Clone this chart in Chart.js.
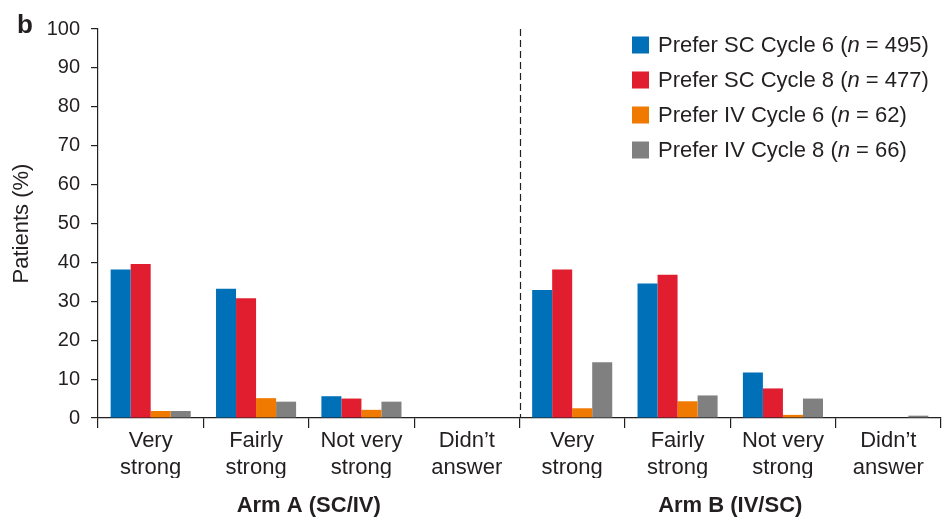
<!DOCTYPE html>
<html>
<head>
<meta charset="utf-8">
<script src="https://cdn.jsdelivr.net/npm/chart.js@4/dist/chart.umd.min.js"></script>
<style>
  html, body { margin: 0; padding: 0; background: #ffffff; }
  #wrap { width: 944px; height: 520px; position: relative; }
</style>
</head>
<body>
<div id="wrap"><canvas id="c" width="944" height="520"></canvas></div>
<script>
// ---- data ----
const categories = [
  ['Very', 'strong'], ['Fairly', 'strong'], ['Not very', 'strong'], ['Didn\u2019t', 'answer'],
  ['Very', 'strong'], ['Fairly', 'strong'], ['Not very', 'strong'], ['Didn\u2019t', 'answer']
];
const armLabels = ['Arm A (SC/IV)', 'Arm B (IV/SC)'];
const seriesNames = ['Prefer SC Cycle 6', 'Prefer SC Cycle 8', 'Prefer IV Cycle 6', 'Prefer IV Cycle 8'];
const seriesN = [495, 477, 62, 66];
const preferSC6 = [38.2, 33.2, 5.6, 0, 32.9, 34.6, 11.7, 0];
const preferSC8 = [39.6, 30.8, 5.0, 0, 38.2, 36.8, 7.6, 0];
const preferIV6 = [1.8, 5.1, 2.1, 0, 2.5, 4.3, 0.8, 0];
const preferIV8 = [1.8, 4.2, 4.2, 0, 14.3, 5.8, 5.0, 0.6];
const yTicks = [0, 10, 20, 30, 40, 50, 60, 70, 80, 90, 100];

const colors = ['#0071B9', '#E11E2F', '#F07A00', '#808080'];
const INK = '#231F20';
const FONT = "'Liberation Sans', Arial, Helvetica, sans-serif";

const seriesValues = [preferSC6, preferSC8, preferIV6, preferIV8];

const extras = {
  id: 'extras',
  afterDatasetsDraw(chart) {
    const ctx = chart.ctx;
    const x = chart.scales.x;
    const area = chart.chartArea;
    // dashed separator between arms
    const sx = Math.round(x.getPixelForValue(3.5)) + 0.5;
    ctx.save();
    ctx.strokeStyle = INK;
    ctx.lineWidth = 1.2;
    ctx.setLineDash([7, 4]);
    ctx.beginPath();
    ctx.moveTo(sx, area.top);
    ctx.lineTo(sx, area.bottom);
    ctx.stroke();
    ctx.restore();
  },
  afterDraw(chart) {
    const ctx = chart.ctx;
    ctx.save();
    // panel letter
    ctx.fillStyle = INK;
    ctx.font = "bold 26px " + FONT;
    ctx.textBaseline = 'alphabetic';
    ctx.textAlign = 'left';
    ctx.fillText('b', 17, 33);
    // legend
    const sqX = 632, sqSize = 17, txtX = 658;
    const rowY = [45, 80, 115, 150];
    ctx.textBaseline = 'middle';
    for (let i = 0; i < seriesNames.length; i++) {
      const cy = rowY[i];
      ctx.fillStyle = colors[i];
      ctx.fillRect(sqX, cy - sqSize / 2, sqSize, sqSize);
      ctx.fillStyle = INK;
      let tx = txtX;
      const parts = [
        [seriesNames[i] + ' (', 'normal'],
        ['n', 'italic'],
        [' = ' + seriesN[i] + ')', 'normal']
      ];
      for (const [t, style] of parts) {
        ctx.font = (style === 'italic' ? 'italic ' : '') + '22px ' + FONT;
        ctx.fillText(t, tx, cy + 1);
        tx += ctx.measureText(t).width;
      }
    }
    ctx.restore();
  }
};

new Chart(document.getElementById('c'), {
  type: 'bar',
  data: {
    labels: categories,
    datasets: seriesNames.map((name, i) => ({
      label: name,
      data: seriesValues[i],
      backgroundColor: colors[i],
      borderWidth: 0,
      barPercentage: 1.0,
      categoryPercentage: 0.76,
      xAxisID: 'x',
      yAxisID: 'y'
    }))
  },
  options: {
    responsive: false,
    animation: false,
    devicePixelRatio: 1,
    layout: { padding: { top: 29, right: 3, bottom: 0, left: 0 } },
    plugins: { legend: { display: false }, tooltip: { enabled: false } },
    scales: {
      x: {
        type: 'category',
        position: 'bottom',
        weight: 0,
        offset: true,
        grid: { display: true, offset: true, drawOnChartArea: false, drawTicks: true, tickLength: 10, color: INK, lineWidth: 1.2 },
        border: { display: true, color: INK, width: 1.2 },
        ticks: { color: INK, font: { family: FONT, size: 22, lineHeight: 1.23 }, padding: -1, maxRotation: 0, autoSkip: false },
        afterFit(scale) { scale.height = 60; }
      },
      xArm: {
        type: 'category',
        position: 'bottom',
        weight: 1,
        labels: armLabels,
        offset: true,
        grid: { display: false, drawTicks: false },
        border: { display: false },
        ticks: { color: INK, font: { family: FONT, size: 22, weight: 'bold', lineHeight: 1.2 }, padding: 15, maxRotation: 0 },
        afterFit(scale) { scale.height = 42; }
      },
      y: {
        type: 'linear',
        min: 0,
        max: 100,
        afterBuildTicks(scale) { scale.ticks = yTicks.map(v => ({ value: v })); },
        grid: { display: true, drawOnChartArea: false, drawTicks: true, tickLength: 7, color: INK, lineWidth: 1.2 },
        border: { display: true, color: INK, width: 1.2 },
        ticks: { color: INK, font: { family: FONT, size: 20 }, padding: 11 },
        title: { display: true, text: 'Patients (%)', color: INK, font: { family: FONT, size: 22 }, padding: { top: 9, bottom: 0 } },
        afterFit(scale) { scale.width = 98; }
      }
    }
  },
  plugins: [extras]
});
</script>
</body>
</html>
